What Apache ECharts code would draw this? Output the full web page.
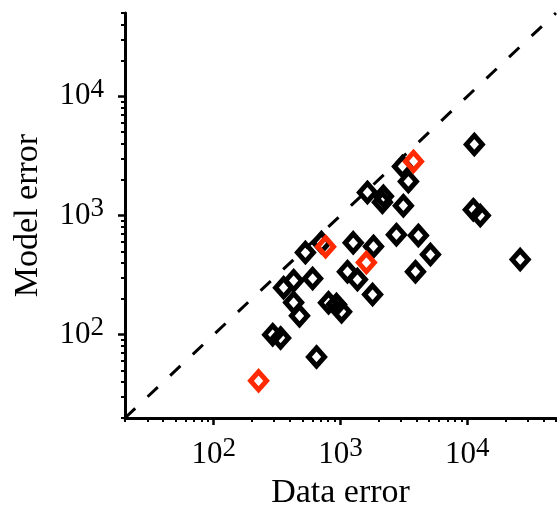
<!DOCTYPE html>
<html><head><meta charset="utf-8">
<script src="https://cdn.jsdelivr.net/npm/echarts@6/dist/echarts.min.js"></script>
<style>html,body{margin:0;padding:0;background:#fff}#c{width:557px;height:514px}</style>
</head><body><div id="c"></div>
<script>
// Data error (x), Model error (y)
const blackPoints = [
  [11350, 3950], [3080, 2580], [3430, 1930], [1630, 1560], [2180, 1450],
  [2140, 1290], [3130, 1210], [11150, 1120], [12650, 1000], [2760, 690],
  [4110, 680], [5120, 470], [1260, 590], [1820, 550], [1135, 338],
  [1360, 290], [1790, 217], [3900, 338], [26100, 427], [529, 489],
  [427, 284], [356, 248], [603, 296], [427, 186], [475, 144],
  [805, 185], [930, 179], [1020, 156], [292, 100], [337, 94],
  [647, 65], [708, 593]
];
const redPoints = [[226, 41], [763, 548], [1600, 403], [3760, 2840]];
const diagonal = [[20, 20], [50000, 50000]];
const axisMin = 20, axisMax = 50000;
const majorTicks = [100, 1000, 10000];
const minorTicks = [20, 30, 40, 50, 60, 70, 80, 90,
  200, 300, 400, 500, 600, 700, 800, 900,
  2000, 3000, 4000, 5000, 6000, 7000, 8000, 9000,
  20000, 30000, 40000, 50000];

const FONT = '"Liberation Serif", "DejaVu Serif", serif';
const chart = echarts.init(document.getElementById('c'));
function supLabel(v) {
  const e = Math.round(Math.log10(v));
  return '{b|10}{s|' + e + '}';
}
const rich = {
  b: { fontFamily: FONT, fontSize: 31, color: '#000', lineHeight: 40 },
  s: { fontFamily: FONT, fontSize: 27, color: '#000', lineHeight: 22, verticalAlign: 'top' }
};
const gridBox = { left: 125, right: 1, top: 13, bottom: 96, containLabel: false, outerBoundsMode: 'none' };
function mainAxis(name, gap, margin, pos) {
  return {
    type: 'log', logBase: 10, gridIndex: 0, min: axisMin, max: axisMax, position: pos,
    name: name, nameLocation: 'middle', nameGap: gap,
    nameTextStyle: { fontFamily: FONT, fontSize: 34, color: '#000' },
    axisLine: { show: true, onZero: false, lineStyle: { color: '#000', width: 3 } },
    axisTick: { show: true, inside: false, length: 7, customValues: majorTicks, lineStyle: { color: '#000', width: 2.5 } },
    axisLabel: { show: true, customValues: majorTicks, formatter: supLabel, margin: margin, rich: rich },
    splitLine: { show: false }, minorTick: { show: false }, minorSplitLine: { show: false }
  };
}
function minorAxis(pos) {
  return {
    type: 'log', logBase: 10, gridIndex: 1, min: axisMin, max: axisMax, position: pos,
    axisLine: { show: false, onZero: false },
    axisTick: { show: true, inside: false, length: 4, customValues: minorTicks, lineStyle: { color: '#000', width: 2 } },
    axisLabel: { show: false }, splitLine: { show: false }
  };
}
chart.setOption({
  animation: false,
  backgroundColor: '#fff',
  grid: [gridBox, Object.assign({}, gridBox)],
  xAxis: [mainAxis('Data error', 58, 17, 'bottom'), minorAxis('bottom')],
  yAxis: [mainAxis('Model error', 80, 21, 'left'), minorAxis('left')],
  series: [
    { type: 'line', xAxisIndex: 0, yAxisIndex: 0, data: diagonal, symbol: 'none', silent: true,
      lineStyle: { color: '#000', width: 3, type: [14, 17] } },
    { type: 'scatter', xAxisIndex: 0, yAxisIndex: 0, data: blackPoints, symbol: 'diamond', symbolSize: [16, 18],
      itemStyle: { color: 'rgba(0,0,0,0)', borderColor: '#000', borderWidth: 5, opacity: 1 } },
    { type: 'scatter', xAxisIndex: 0, yAxisIndex: 0, data: redPoints, symbol: 'diamond', symbolSize: [16, 18],
      itemStyle: { color: 'rgba(0,0,0,0)', borderColor: '#ff2a00', borderWidth: 5, opacity: 1 } }
  ]
});
</script></body></html>
